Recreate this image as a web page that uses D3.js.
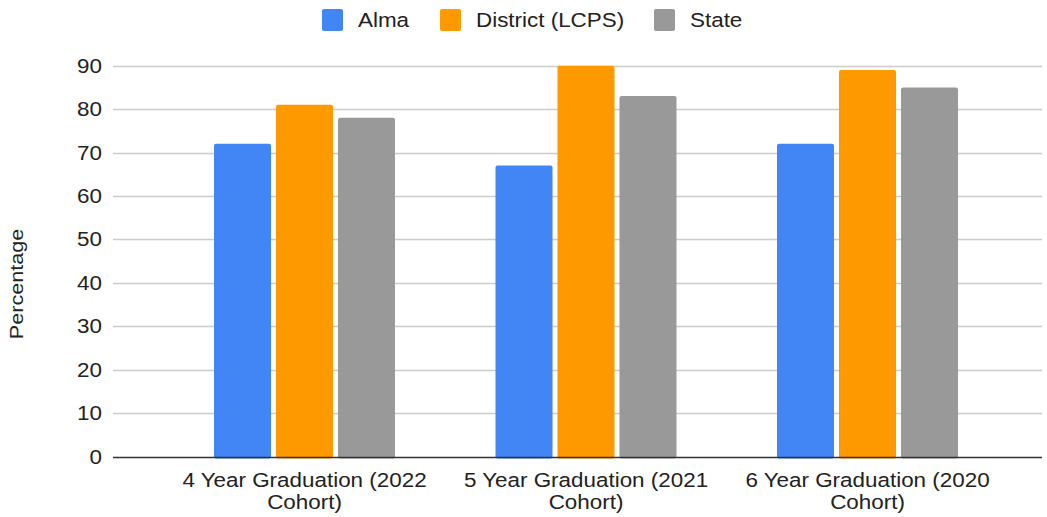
<!DOCTYPE html>
<html lang="en">
<head>
<meta charset="UTF-8">
<title>Graduation rates</title>
<script src="https://d3js.org/d3.v7.min.js"></script>
<style>
  body { margin: 0; background: #fff; }
  text { font-family: "Liberation Sans", Arial, sans-serif; fill: #222; }
</style>
</head>
<body>
<script>
var categories = ["4 Year Graduation (2022 Cohort)", "5 Year Graduation (2021 Cohort)", "6 Year Graduation (2020 Cohort)"]
var catLines = [["4 Year Graduation (2022", "Cohort)"], ["5 Year Graduation (2021", "Cohort)"], ["6 Year Graduation (2020", "Cohort)"]]
var series = ["Alma", "District (LCPS)", "State"]
var alma = [72, 67, 72]
var district = [81, 90, 89]
var state = [78, 83, 85]
var yTicks = [0, 10, 20, 30, 40, 50, 60, 70, 80, 90]

var colors = ["#4285f4", "#ff9900", "#999999"]
var values = [alma, district, state]

var width = 1047, height = 517
var fs = 19.5, sx = 1.15   // text is a bit wider than plain Arial in the source
var svg = d3.select("body").append("svg")
    .attr("width", width)
    .attr("height", height)

var gridLeft = 113, gridRight = 1042

var y = d3.scaleLinear().domain([0, 90]).range([456.5, 65.7])
var x0 = d3.scaleBand().domain(categories).range([163.75, 1008.25])
var groupW = 181
var x1 = d3.scaleBand().domain(series).range([0, groupW]).paddingInner(0.08)

function label(x, yy, anchor, str) {
    return svg.append("text")
        .attr("transform", "translate(" + x + "," + yy + ") scale(" + sx + ",1)")
        .attr("text-anchor", anchor)
        .style("font-size", fs + "px")
        .text(str)
}

// gridlines
svg.selectAll(".grid").data(yTicks.filter(function (d) { return d > 0 }))
    .enter().append("line")
    .attr("x1", gridLeft).attr("x2", gridRight)
    .attr("y1", function (d) { return Math.round(y(d)) + 0.5 })
    .attr("y2", function (d) { return Math.round(y(d)) + 0.5 })
    .attr("stroke", "#cccccc").attr("stroke-width", 1.5)

// tick labels
yTicks.forEach(function (d) {
    label(102, y(d) + 7, "end", d)
})

// bars
categories.forEach(function (c, ci) {
    var gx = x0(c) + (x0.bandwidth() - groupW) / 2
    series.forEach(function (s, si) {
        var v = values[si][ci]
        svg.append("rect")
            .attr("x", gx + x1(s))
            .attr("y", y(v))
            .attr("width", x1.bandwidth())
            .attr("height", y(0) - y(v) + 2)
            .attr("rx", 2)
            .attr("fill", colors[si])
    })
})

// baseline
svg.append("line")
    .attr("x1", gridLeft).attr("x2", gridRight)
    .attr("y1", 457.5).attr("y2", 457.5)
    .attr("stroke", "#333").attr("stroke-width", 1.5)

// category labels
categories.forEach(function (c, ci) {
    var cx = x0(c) + x0.bandwidth() / 2
    catLines[ci].forEach(function (line, li) {
        label(cx, 487 + li * 22, "middle", line)
    })
})

// y axis title
svg.append("text")
    .attr("transform", "translate(23,284) rotate(-90) scale(1.2,1)")
    .attr("text-anchor", "middle")
    .style("font-size", "18px")
    .text("Percentage")

// legend
var legendX = [322, 440, 654]
series.forEach(function (s, i) {
    svg.append("rect")
        .attr("x", legendX[i]).attr("y", 9)
        .attr("width", 21).attr("height", 22)
        .attr("rx", 2)
        .attr("fill", colors[i])
    label(legendX[i] + 36, 27, "start", s)
})
</script>
</body>
</html>
